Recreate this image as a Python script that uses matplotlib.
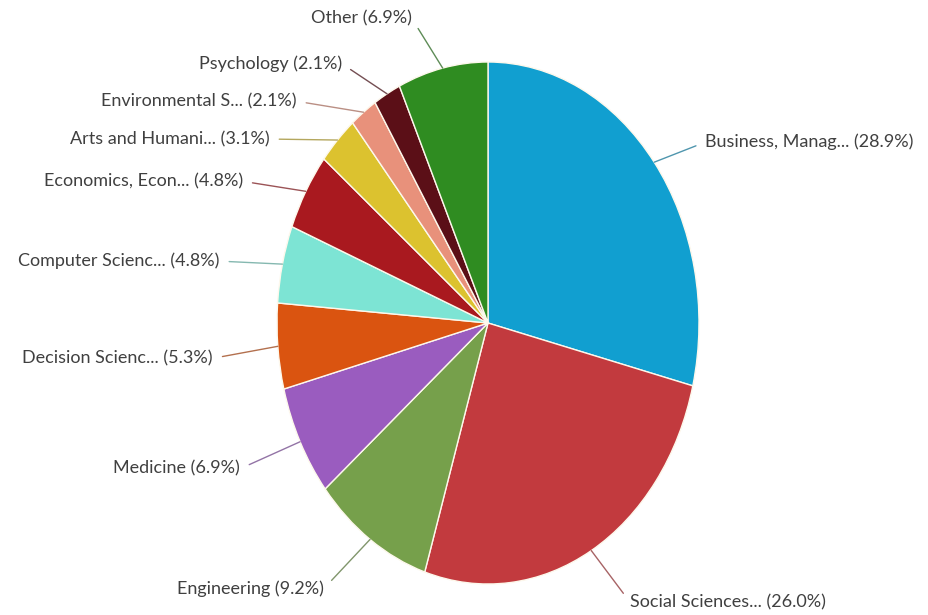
import numpy as np
import matplotlib
matplotlib.use('Agg')
from matplotlib import pyplot as plt
from matplotlib.colors import to_rgb

plt.rcParams['font.family'] = ['Lato', 'DejaVu Sans']

# subject areas, clockwise from 12 o'clock
labels = ['Business, Manag...', 'Social Sciences...', 'Engineering', 'Medicine',
          'Decision Scienc...', 'Computer Scienc...', 'Economics, Econ...',
          'Arts and Humani...', 'Environmental S...', 'Psychology', 'Other']
shares = [28.9, 26.0, 9.2, 6.9, 5.3, 4.8, 4.8, 3.1, 2.1, 2.1, 6.9]
colors = ['#119fd0', '#c23a3e', '#76a04b', '#9a5cbf', '#da5410', '#7de4d4',
          '#a9191f', '#dcc22f', '#e8917b', '#5b0f17', '#2f8c21']

# label offsets from the slice edge, in pixels (dx, dy)
label_offsets = [(51, 20), (39, -52), (-46, -49), (-60, -27), (-65, -12),
                 (-63, 3), (-63, 10), (-68, 1), (-67, 11), (-45, 30), (-31, 50)]


def connector_color(c):
    # slice colour washed towards grey, like the thin leader lines
    r, g, b = to_rgb(c)
    return (0.5 * r + 0.5 * 0.55, 0.5 * g + 0.5 * 0.55, 0.5 * b + 0.5 * 0.55)


fig = plt.figure(figsize=(9.29, 6.15), dpi=100)
ax = fig.add_axes([277 / 929, 31 / 615, 422 / 929, 522 / 615])

wedges, _ = ax.pie(shares, colors=colors, startangle=90, counterclock=False,
                   radius=1, wedgeprops=dict(edgecolor='#fdf8ec', linewidth=1.0))
ax.set_aspect('auto')
ax.set_xlim(-1, 1)
ax.set_ylim(-1, 1)
ax.axis('off')

for w, name, val, col, (dx, dy) in zip(wedges, labels, shares, colors, label_offsets):
    mid = np.deg2rad((w.theta1 + w.theta2) / 2)
    x, y = np.cos(mid), np.sin(mid)
    right = dx > 0
    ax.annotate('%s (%.1f%%)' % (name, val), xy=(x, y), xytext=(dx, dy),
                textcoords='offset pixels', ha='left' if right else 'right',
                va='center', fontsize=13, color='#404040',
                arrowprops=dict(arrowstyle='-', color=connector_color(col), lw=1,
                                shrinkA=5, shrinkB=0,
                                relpos=(0, 0.5) if right else (1, 0.5)))

fig.savefig('out.png', dpi=100, facecolor='white')
